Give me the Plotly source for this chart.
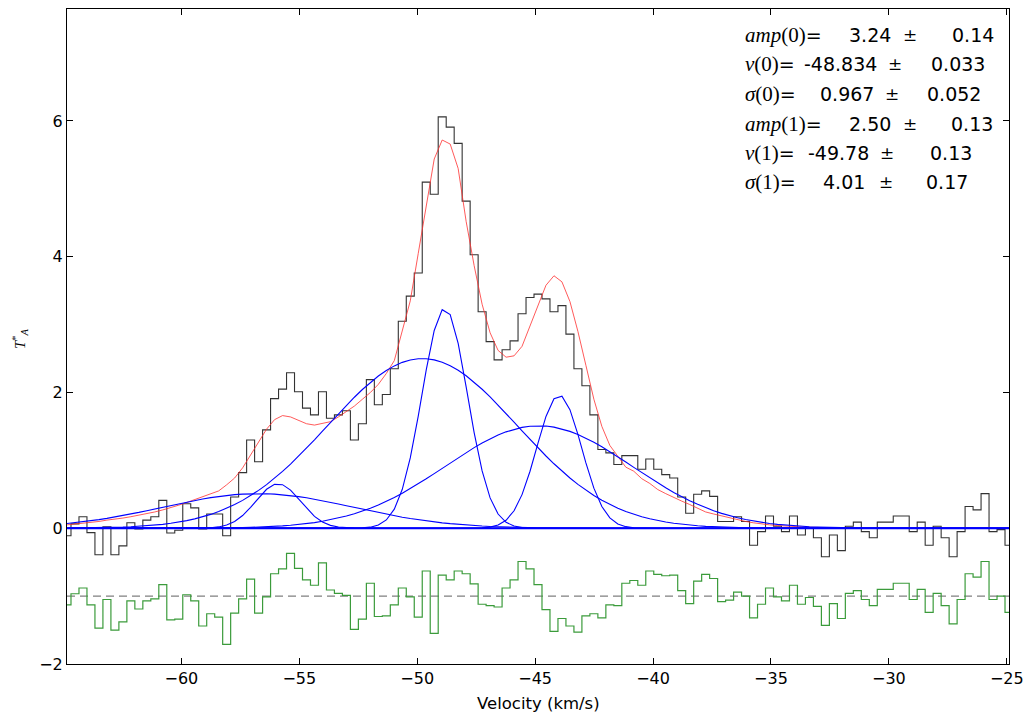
import numpy as np
import plotly.graph_objects as go

# ---- channel grid (km/s) ----
v_start = -64.85
v_step = 0.3385
n_chan = 119

# ---- observed spectrum (T_A*) ----
spectrum = [-0.11, 0.065, 0.17, -0.065, -0.39, 0.02, -0.39, -0.26, 0.08, -0.01,
            0.12, 0.17, 0.41, -0.07, -0.03, 0.36, 0.30, -0.01, 0.21, 0.21,
            -0.11, 0.46, 0.82, 1.30, 0.98, 1.45, 1.91, 2.05, 2.29, 2.01,
            1.77, 1.67, 2.01, 1.62, 1.67, 1.73, 1.30, 1.54, 2.19, 1.82,
            1.97, 2.35, 3.05, 3.42, 3.76, 5.10, 4.92, 6.06, 5.91, 5.67,
            4.82, 4.03, 3.19, 2.75, 2.48, 2.63, 2.76, 3.16, 3.40, 3.45,
            3.38, 3.19, 3.28, 2.86, 2.35, 2.10, 1.67, 1.16, 1.11, 0.94,
            1.07, 1.07, 0.87, 1.02, 0.87, 0.79, 0.74, 0.46, 0.22, 0.50,
            0.55, 0.47, 0.10, 0.10, 0.17, 0.10, -0.25, -0.05, 0.18, 0.03,
            -0.05, 0.18, -0.10, 0.00, -0.14, -0.42, -0.10, -0.33, 0.03, 0.09,
            -0.05, -0.14, 0.09, 0.09, 0.18, 0.18, -0.05, 0.09, -0.25, 0.03,
            -0.14, -0.42, -0.05, 0.32, 0.27, 0.51, -0.05, -0.02, -0.25]

# ---- total model (red) ----
model_total = [0.05, 0.06, 0.07, 0.09, 0.10, 0.12, 0.13, 0.15, 0.17, 0.19,
               0.21, 0.24, 0.27, 0.30, 0.34, 0.38, 0.42, 0.47, 0.51, 0.55,
               0.64, 0.74, 0.89, 1.08, 1.26, 1.46, 1.60, 1.66, 1.64, 1.59,
               1.54, 1.52, 1.54, 1.57, 1.64, 1.72, 1.80, 1.90, 2.00, 2.12,
               2.28, 2.47, 2.90, 3.35, 4.05, 4.78, 5.44, 5.72, 5.66, 5.30,
               4.52, 3.87, 3.30, 2.88, 2.62, 2.52, 2.54, 2.68, 2.98, 3.28,
               3.58, 3.72, 3.63, 3.34, 2.90, 2.40, 1.90, 1.50, 1.22, 1.06,
               0.90, 0.84, 0.73, 0.66, 0.57, 0.51, 0.45, 0.40, 0.35, 0.29,
               0.24, 0.21, 0.18, 0.15, 0.12, 0.10, 0.08, 0.06, 0.05, 0.04,
               0.03, 0.025, 0.02, 0.015, 0.01, 0.01, 0.005, 0.0, 0.0, 0.0,
               0.0, 0.0, 0.0, 0.0, 0.0, 0.0, 0.0, 0.0, 0.0, 0.0,
               0.0, 0.0, 0.0, 0.0, 0.0, 0.0, 0.0, 0.0, 0.0]

# ---- residuals (offset to -1) ----
residual = [-1.13, -0.965, -0.88, -1.13, -1.47, -1.05, -1.50, -1.38, -1.07, -1.19,
            -1.07, -1.04, -0.83, -1.35, -1.34, -0.98, -1.07, -1.44, -1.26, -1.31,
            -1.71, -1.25, -1.04, -0.75, -1.25, -1.01, -0.67, -0.60, -0.37, -0.59,
            -0.76, -0.84, -0.51, -0.91, -0.96, -0.99, -1.49, -1.34, -0.81, -1.30,
            -1.29, -1.13, -0.88, -1.01, -1.31, -0.63, -1.55, -0.69, -0.76, -0.63,
            -0.67, -0.82, -1.12, -1.14, -1.16, -0.88, -0.76, -0.49, -0.60, -0.83,
            -1.20, -1.52, -1.33, -1.44, -1.53, -1.29, -1.26, -1.32, -1.13, -1.14,
            -0.81, -0.77, -0.84, -0.63, -0.68, -0.70, -0.69, -0.92, -1.11, -0.78,
            -0.68, -0.74, -1.08, -1.06, -0.94, -1.00, -1.32, -1.12, -0.88, -1.01,
            -1.07, -0.84, -1.12, -1.02, -1.15, -1.43, -1.11, -1.33, -0.96, -0.92,
            -1.05, -1.14, -0.90, -0.90, -0.81, -0.81, -1.05, -0.90, -1.24, -0.96,
            -1.14, -1.41, -1.05, -0.67, -0.72, -0.49, -1.05, -1.00, -1.24]
residual_level = -1.0

# ---- Gaussian components (blue): amplitude, centre, sigma ----
comp_amp = [3.24, 2.50, 1.96, 1.51, 0.655, 0.51]
comp_cen = [-48.834, -49.78, -43.98, -44.85, -55.9, -56.75]
comp_sig = [0.967, 4.01, 0.95, 3.95, 0.95, 4.05]

# ---- fit parameter text ----
par_names = ["<i>amp</i>(0)", "<i>v</i>(0)", "<i>σ</i>(0)",
             "<i>amp</i>(1)", "<i>v</i>(1)", "<i>σ</i>(1)"]
par_values = ["3.24", "-48.834", "0.967", "2.50", "-49.78", "4.01"]
par_errors = ["0.14", "0.033", "0.052", "0.13", "0.13", "0.17"]

x_ticks = [-60, -55, -50, -45, -40, -35, -30, -25]
y_ticks = [-2, 0, 2, 4, 6]

vel = v_start + v_step * np.arange(n_chan)

W, H = 1032, 722
ML, MR, MT, MB = 67, 23, 9, 58
PW, PH = W - ML - MR, H - MT - MB


def px(xp):
    return (xp - ML) / PW


def py(yp):
    return (H - MB - yp) / PH


fig = go.Figure()

fig.add_trace(go.Scatter(x=vel, y=spectrum, mode="lines", line_shape="hvh",
                         line=dict(color="#333333", width=1.1), hoverinfo="skip"))
fig.add_trace(go.Scatter(x=vel, y=model_total, mode="lines",
                         line=dict(color="#ff3030", width=0.8), hoverinfo="skip"))
for a, c, s in zip(comp_amp, comp_cen, comp_sig):
    fig.add_trace(go.Scatter(x=vel, y=a * np.exp(-(vel - c) ** 2 / (2 * s ** 2)),
                             mode="lines", line=dict(color="#0000ff", width=1.1),
                             hoverinfo="skip"))
fig.add_trace(go.Scatter(x=vel, y=residual, mode="lines", line_shape="hvh",
                         line=dict(color="#3b9b3b", width=1.2), hoverinfo="skip"))

fig.add_hline(y=0, line=dict(color="#0000ff", width=2.2))
fig.add_hline(y=residual_level, line=dict(color="#808080", width=1.2, dash="8px,5px"),
              layer="below")

font_main = "DejaVu Sans"
axis_common = dict(showline=True, linecolor="black", linewidth=1, mirror="ticks",
                   ticks="inside", ticklen=6, tickcolor="black", tickwidth=1,
                   showgrid=False, zeroline=False,
                   tickfont=dict(family=font_main, size=16, color="black"))

fig.update_layout(
    width=W, height=H,
    margin=dict(l=ML, r=MR, t=MT, b=MB),
    paper_bgcolor="white", plot_bgcolor="white",
    showlegend=False,
    xaxis=dict(range=[vel[0], vel[-1]], tickvals=x_ticks, **axis_common),
    yaxis=dict(range=[-2, 7.65], tickvals=y_ticks, **axis_common),
)

anns = []
line_y = [35.5, 64.5, 94.0, 123.5, 153.0, 182.0]
val_right = [893.0, 879.0, 875.5, 893.0, 870.5, 867.0]
pm_left = [900.5, 886.0, 883.0, 901.0, 878.0, 876.5]
err_right = [995.5, 987.0, 983.0, 995.0, 973.5, 969.5]
for i in range(6):
    yy = py(line_y[i])
    anns.append(dict(x=px(743), y=yy, xref="paper", yref="paper", xanchor="left",
                     yanchor="middle", showarrow=False,
                     text='<span style="font-family:Liberation Serif;font-size:21px">'
                          + par_names[i] + '</span>=',
                     font=dict(family=font_main, size=19, color="black")))
    anns.append(dict(x=px(val_right[i]), y=yy, xref="paper", yref="paper", xanchor="right",
                     yanchor="middle", showarrow=False, text=par_values[i],
                     font=dict(family=font_main, size=19, color="black")))
    anns.append(dict(x=px(pm_left[i]), y=yy, xref="paper", yref="paper", xanchor="left",
                     yanchor="middle", showarrow=False, text="±",
                     font=dict(family="DejaVu Serif", size=17, color="black")))
    anns.append(dict(x=px(err_right[i]), y=yy, xref="paper", yref="paper", xanchor="right",
                     yanchor="middle", showarrow=False, text=par_errors[i],
                     font=dict(family=font_main, size=19, color="black")))

anns.append(dict(x=px(538), y=py(703), xref="paper", yref="paper", xanchor="center",
                 yanchor="middle", showarrow=False, text="Velocity (km/s)",
                 font=dict(family=font_main, size=16.5, color="black")))
anns.append(dict(x=px(20), y=py(339), xref="paper", yref="paper", xanchor="center",
                 yanchor="middle", showarrow=False, textangle=-90,
                 text='<i>T</i><sup>*</sup><sub><i>A</i></sub>',
                 font=dict(family="Liberation Serif", size=15, color="black")))
fig.update_layout(annotations=anns)

fig.write_html("out.html")
